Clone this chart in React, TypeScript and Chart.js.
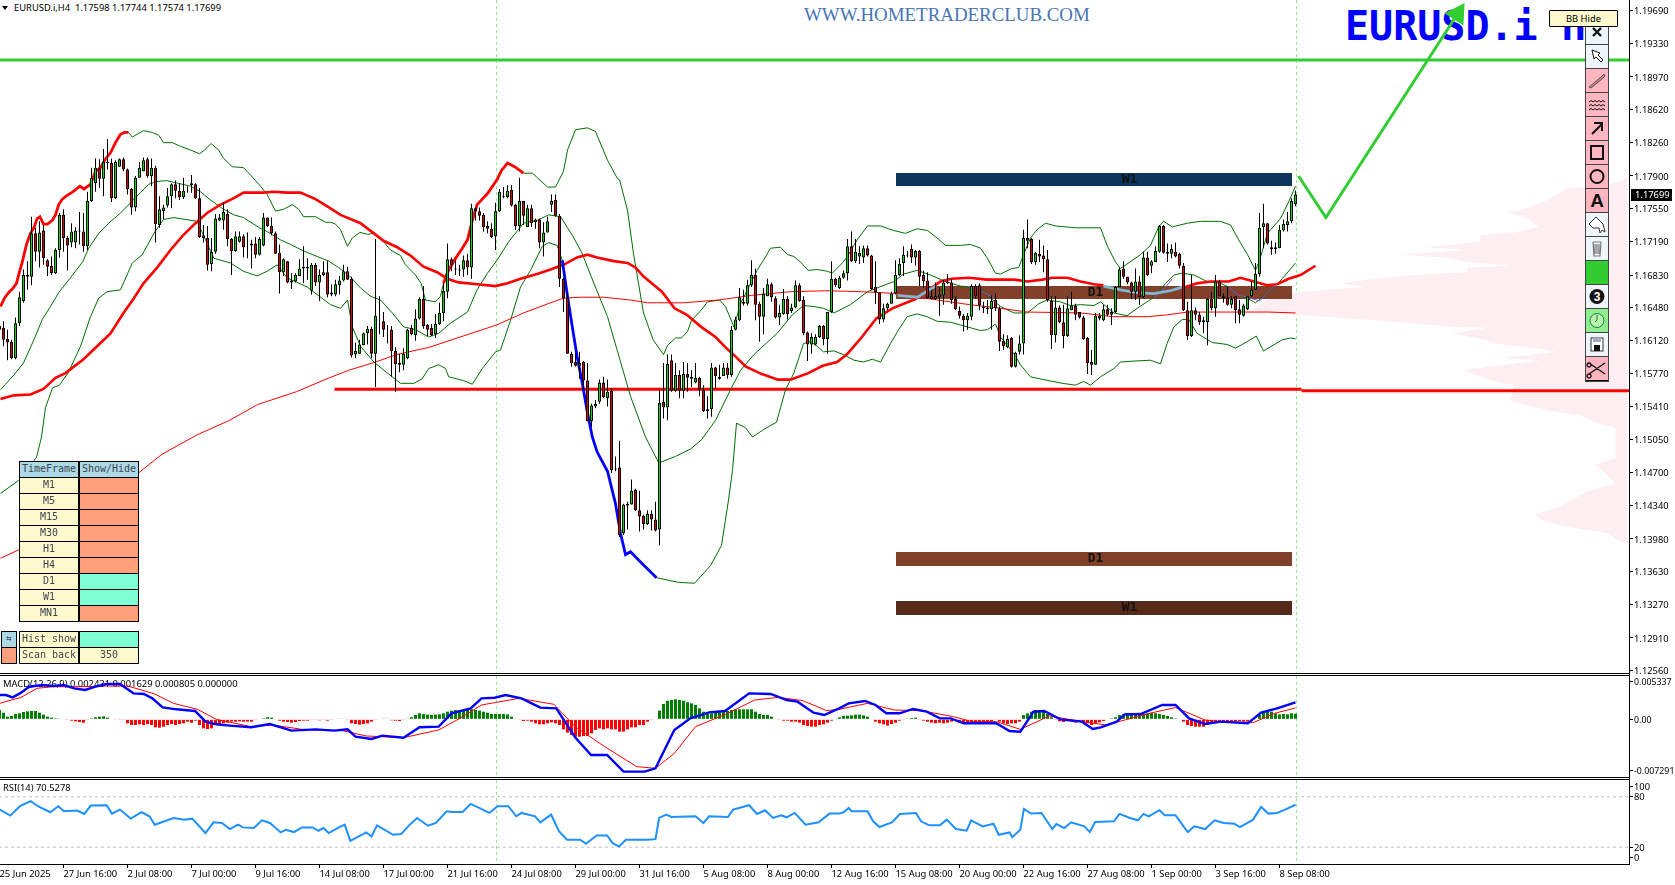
import React, { useEffect, useRef } from 'react';
import { Chart, registerables } from 'chart.js';
Chart.register(...registerables);

// Bars: [open, high, low, close] in 1/10000 of a price unit, H4 bars
const ohlc: number[][] = [
[11628,11633,11606,11624],[11626,11633,11606,11613],[11614,11624,11591,11610],[11611,11613,11592,11593],[11593,11637,11592,11631],
[11631,11665,11628,11659],[11655,11689,11653,11683],[11683,11698,11667,11681],[11681,11746,11672,11728],[11728,11734,11698,11708],
[11708,11741,11691,11729],[11731,11737,11694,11701],[11699,11700,11682,11692],[11693,11703,11683,11685],[11685,11712,11684,11710],
[11710,11750,11702,11748],[11748,11754,11708,11723],[11723,11725,11688,11715],[11718,11739,11713,11730],[11718,11735,11712,11731],
[11730,11751,11716,11731],[11730,11750,11708,11714],[11714,11773,11710,11763],[11763,11799,11762,11788],[11782,11809,11773,11799],
[11798,11808,11777,11787],[11787,11819,11768,11805],[11805,11830,11797,11804],[11804,11809,11762,11766],[11766,11807,11765,11805],
[11800,11809,11800,11808],[11808,11810,11795,11797],[11797,11798,11770,11776],[11776,11777,11748,11756],[11756,11790,11752,11788],
[11788,11805,11788,11799],[11795,11810,11795,11807],[11808,11810,11788,11790],[11790,11809,11779,11799],[11799,11801,11718,11738],
[11737,11768,11734,11754],[11752,11759,11743,11756],[11758,11777,11756,11768],[11768,11782,11755,11781],[11781,11785,11766,11774],
[11774,11782,11764,11767],[11767,11788,11765,11774],[11774,11779,11772,11774],[11782,11791,11772,11780],[11781,11782,11765,11766],
[11766,11777,11723,11724],[11726,11737,11718,11723],[11723,11736,11688,11694],[11695,11723,11687,11708],[11708,11749,11706,11744],
[11742,11749,11741,11745],[11742,11762,11732,11751],[11749,11754,11714,11722],[11722,11723,11683,11709],[11709,11730,11708,11725],
[11719,11730,11718,11725],[11725,11727,11702,11713],[11713,11729,11701,11713],[11717,11721,11690,11715],[11717,11724,11701,11705],
[11705,11724,11704,11722],[11715,11750,11714,11745],[11745,11745,11735,11736],[11736,11745,11726,11728],[11728,11730,11706,11706],
[11707,11716,11663,11686],[11686,11701,11682,11700],[11698,11698,11674,11675],[11677,11685,11668,11675],[11676,11685,11675,11683],
[11682,11700,11682,11690],[11690,11714,11674,11692],[11690,11701,11678,11692],[11666,11696,11662,11694],[11694,11696,11671,11675],
[11675,11689,11655,11683],[11683,11698,11682,11686],[11686,11698,11659,11662],[11664,11673,11660,11662],[11662,11678,11660,11673],
[11672,11682,11662,11677],[11677,11694,11676,11687],[11687,11692,11678,11678],[11679,11681,11594,11596],[11597,11610,11593,11601],
[11598,11613,11598,11608],[11607,11621,11607,11620],[11620,11628,11608,11625],[11625,11627,11593,11598],[11598,11722,11562,11639],
[11639,11660,11619,11639],[11633,11643,11616,11624],[11624,11629,11609,11624],[11624,11628,11573,11601],[11601,11605,11557,11587],
[11588,11598,11578,11586],[11586,11604,11580,11598],[11593,11625,11592,11624],[11626,11629,11618,11619],[11618,11646,11612,11636],
[11636,11659,11635,11657],[11657,11671,11625,11628],[11629,11630,11617,11624],[11626,11630,11617,11618],[11619,11641,11615,11630],
[11630,11653,11629,11642],[11642,11674,11633,11666],[11665,11717,11658,11700],[11700,11702,11687,11694],[11690,11699,11683,11689],
[11689,11694,11682,11688],[11689,11704,11681,11699],[11699,11706,11683,11691],[11691,11760,11679,11755],[11755,11756,11742,11752],
[11752,11756,11742,11747],[11748,11750,11730,11735],[11736,11741,11728,11733],[11733,11739,11723,11724],[11725,11761,11710,11752],
[11752,11776,11751,11773],[11768,11778,11766,11767],[11767,11780,11766,11774],[11775,11780,11757,11758],[11759,11760,11732,11736],
[11736,11788,11730,11763],[11763,11763,11737,11747],[11735,11759,11735,11755],[11755,11759,11735,11739],[11740,11744,11733,11743],
[11743,11744,11712,11718],[11718,11740,11703,11729],[11729,11746,11729,11741],[11759,11770,11751,11763],[11764,11770,11746,11747],
[11747,11749,11670,11679],[11679,11680,11643,11658],[11658,11663,11598,11598],[11598,11600,11584,11588],[11589,11599,11584,11585],
[11585,11600,11571,11588],[11589,11590,11559,11569],[11569,11588,11525,11525],[11525,11544,11519,11542],[11541,11548,11539,11544],
[11546,11570,11544,11567],[11567,11573,11550,11551],[11550,11570,11541,11557],[11558,11561,11469,11472],[11474,11487,11471,11473],
[11475,11504,11400,11402],[11404,11436,11402,11435],[11434,11438,11408,11436],[11435,11462,11435,11450],[11451,11452,11428,11429],
[11429,11450,11406,11422],[11423,11424,11408,11414],[11414,11429,11413,11425],[11425,11429,11407,11419],[11419,11438,11406,11407],
[11408,11559,11391,11545],[11546,11588,11528,11540],[11540,11597,11526,11587],[11591,11597,11557,11558],[11558,11588,11557,11575],
[11575,11580,11550,11558],[11558,11589,11550,11576],[11576,11588,11557,11572],[11573,11580,11562,11571],[11567,11588,11566,11572],
[11572,11573,11552,11559],[11559,11564,11535,11536],[11538,11552,11528,11536],[11538,11588,11530,11583],[11583,11584,11561,11574],
[11571,11586,11570,11573],[11574,11588,11574,11583],[11583,11588,11571,11575],[11575,11628,11573,11624],[11624,11638,11623,11635],
[11634,11669,11633,11659],[11654,11667,11650,11652],[11652,11678,11650,11672],[11672,11699,11670,11683],[11683,11690,11634,11651],
[11652,11654,11611,11638],[11638,11669,11619,11663],[11660,11679,11660,11673],[11673,11675,11654,11659],[11658,11660,11636,11637],
[11637,11651,11629,11642],[11641,11668,11640,11657],[11657,11660,11635,11641],[11644,11652,11642,11648],[11648,11677,11647,11672],
[11672,11674,11654,11655],[11656,11660,11618,11620],[11621,11622,11590,11608],[11608,11620,11598,11616],[11608,11619,11607,11616],
[11616,11629,11615,11628],[11628,11629,11607,11614],[11614,11643,11598,11643],[11643,11698,11642,11679],[11679,11680,11670,11672],
[11669,11682,11668,11680],[11680,11688,11679,11685],[11685,11722,11677,11714],[11714,11730,11697,11698],[11698,11722,11696,11708],
[11703,11714,11695,11707],[11702,11715,11696,11712],[11712,11715,11703,11704],[11704,11705,11667,11668],[11670,11698,11652,11664],
[11664,11664,11630,11635],[11635,11652,11632,11647],[11647,11653,11645,11652],[11652,11665,11652,11663],[11663,11699,11662,11683],
[11683,11701,11682,11695],[11696,11714,11682,11705],[11705,11709,11702,11704],[11711,11716,11696,11702],[11702,11710,11693,11709],
[11709,11710,11671,11681],[11683,11688,11669,11676],[11677,11686,11657,11658],[11657,11667,11657,11660],[11657,11675,11656,11660],
[11659,11670,11639,11662],[11661,11678,11651,11675],[11676,11684,11673,11674],[11675,11679,11652,11656],[11657,11660,11645,11646],
[11644,11649,11636,11639],[11639,11641,11622,11634],[11634,11642,11624,11639],[11638,11673,11634,11671],[11671,11673,11658,11660],
[11672,11674,11645,11650],[11649,11654,11642,11647],[11648,11656,11641,11646],[11646,11661,11624,11655],[11656,11663,11644,11647],
[11647,11649,11601,11611],[11612,11619,11602,11606],[11605,11618,11604,11614],[11615,11616,11583,11584],[11584,11600,11583,11599],
[11600,11618,11597,11609],[11609,11732,11597,11723],[11723,11743,11712,11720],[11722,11723,11695,11697],[11697,11708,11694,11707],
[11706,11721,11697,11703],[11704,11715,11686,11700],[11700,11710,11654,11656],[11655,11660,11603,11618],[11618,11660,11610,11648],
[11648,11650,11631,11632],[11632,11651,11604,11617],[11617,11660,11616,11647],[11645,11665,11645,11650],[11650,11652,11634,11640],
[11643,11643,11636,11637],[11637,11639,11613,11614],[11615,11616,11576,11588],[11589,11602,11575,11586],[11586,11642,11586,11639],
[11639,11642,11634,11636],[11634,11651,11633,11646],[11646,11651,11639,11640],[11643,11647,11629,11640],[11643,11671,11642,11670],
[11670,11691,11670,11689],[11690,11698,11679,11681],[11681,11681,11673,11675],[11675,11676,11657,11665],[11665,11690,11656,11676],
[11676,11682,11651,11659],[11659,11708,11658,11702],[11702,11708,11682,11683],[11693,11699,11685,11698],[11697,11714,11697,11709],
[11708,11737,11707,11736],[11736,11737,11706,11707],[11708,11717,11697,11706],[11706,11716,11701,11711],[11708,11718,11702,11703],
[11706,11707,11690,11693],[11693,11696,11644,11645],[11645,11654,11613,11617],[11617,11683,11616,11645],[11645,11648,11634,11640],
[11640,11643,11629,11632],[11634,11638,11620,11632],[11632,11658,11607,11657],[11657,11665,11645,11647],[11647,11683,11638,11676],
[11676,11678,11660,11660],[11660,11663,11653,11658],[11659,11670,11650,11651],[11651,11660,11647,11657],[11660,11660,11631,11645],
[11646,11656,11631,11640],[11639,11652,11638,11650],[11646,11660,11645,11660],[11660,11676,11659,11667],[11667,11696,11667,11684],
[11684,11750,11681,11734],[11735,11760,11712,11739],[11739,11739,11716,11717],[11713,11720,11705,11711],[11711,11718,11706,11713],
[11712,11737,11712,11732],[11731,11743,11730,11738],[11737,11751,11730,11741],[11741,11766,11739,11763],[11759.8,11774.4,11757.4,11769.9],
];

// Bollinger band and moving-average curves: [bar position, value in 1/10000]
const bbUpperExpandA = [[0.25,11649],[1.25,11658],[2.25,11664],[3.25,11668],[4.25,11674],[4.9,11685],[5.75,11698],[6.75,11716],[7.75,11728],[8.6,11734],[9.4,11744],[10.1,11746],[11,11738],[12,11738],[13.2,11742],[14,11748],[14.8,11759],[15.7,11765],[16.9,11769],[18.4,11773],[20.1,11779],[21.1,11776],[22.75,11781],[24,11795],[25.25,11799],[26.6,11809],[27.75,11815],[29,11826],[30.25,11835],[31.25,11837],[32.25,11837]];
const bbUpperA = [[32.25,11837],[33.2,11832],[34.4,11835],[36,11839],[38.2,11837],[39.8,11834],[41,11826],[43.2,11826],[45.25,11822],[47.75,11818],[50,11814],[51.25,11818],[52.9,11825],[54.8,11818],[56,11809],[58.2,11800],[61,11799],[62.75,11791],[65.25,11779],[66.9,11770],[69,11752],[71,11754],[73.2,11759],[74.8,11754],[76,11746],[79,11746],[81.5,11740],[82.75,11740],[84,11738],[85.25,11732],[87,11714],[88.2,11723],[90.1,11729],[92,11727],[93.6,11728],[95.25,11723],[97.75,11710],[100.25,11704],[101.5,11694],[104,11683],[105.4,11674],[106.5,11656],[109,11654],[110.25,11660],[111,11674]];
const bbUpperExpandB = [[111,11674],[111.9,11685],[114,11701],[115.7,11712],[117,11721],[118.2,11742],[119.4,11759],[122,11771],[124.4,11786],[125.5,11796],[127,11804],[128.75,11800],[131,11793]];
const bbUpperB = [[131,11793],[133.25,11793],[137,11778],[139,11778],[141,11795],[142,11818],[144,11840],[147,11842],[149,11838],[152,11807],[154.5,11787],[155,11786],[157,11753],[158.5,11706],[161,11642],[163.4,11613],[166,11597],[167,11607],[169,11615],[170.5,11615],[172,11622],[173,11634],[175.4,11645],[177,11654],[180,11656],[181.5,11649],[183.6,11627],[185.25,11652],[189.4,11688],[191,11699],[192.75,11712],[195.25,11713],[197,11705],[198.6,11703],[200.25,11697],[202.2,11688],[204.4,11689],[207,11687],[208.2,11685],[210.7,11696],[212,11703],[214.4,11721],[217,11736],[220.25,11736],[223.6,11731],[226.5,11728],[229.4,11733],[232,11731],[234.4,11723],[236.5,11715],[240.25,11715],[242.75,11716],[245.25,11712],[247,11701],[249,11685],[250.25,11684],[253,11690],[254.8,11691],[256,11705],[257.75,11723],[259.4,11732],[261.5,11739],[264,11736],[269,11734],[275.25,11734],[277,11714],[279,11697],[280.25,11690],[285.25,11705],[287.75,11715],[289.8,11735],[291,11741],[293.2,11735],[297,11739],[300.25,11741],[305.25,11741],[307.75,11737],[309.8,11721],[312,11705],[314,11688],[315,11699],[317,11728],[320.25,11744],[322.3,11762],[324,11779]];
const bbMiddle = [[0.25,11559],[1.5,11565],[3.6,11575],[6,11588],[8.6,11613],[10.7,11635],[12.75,11649],[14.8,11664],[17.75,11680],[20.9,11698],[22.3,11712],[24.8,11728],[27.3,11739],[30.25,11750],[33.2,11763],[35.25,11772],[37.3,11781],[39.25,11784],[41.75,11785],[44.75,11782],[47.75,11779],[50.25,11773],[52.75,11764],[55.7,11755],[58.6,11748],[61,11745],[65,11734],[66.9,11730],[70.25,11721],[72.75,11716],[76,11709],[79.4,11703],[82.3,11698],[84.8,11691],[87.75,11681],[90.25,11669],[92.75,11660],[95.25,11656],[98.2,11642],[101,11627],[104,11624],[107.3,11616],[109.8,11620],[112.75,11631],[117,11643],[119.4,11667],[122,11685],[124.4,11699],[127.3,11719],[131,11739],[134.4,11742],[137.3,11748],[140.25,11746],[143.2,11726],[145.7,11706],[148.6,11674],[152,11638],[154.4,11602],[157.75,11552],[161.5,11508],[164.8,11480],[169,11487],[172.75,11495],[175.5,11505],[179,11526],[182.75,11559],[185.25,11580],[188.6,11597],[194.4,11620],[198.2,11640],[201,11650],[203.6,11649],[206,11647],[208.6,11642],[212.75,11651],[217,11665],[219.4,11669],[223.6,11676],[226,11684],[229.4,11688],[232.75,11683],[236.5,11676],[240.25,11671],[245.25,11669],[247.75,11658],[250.25,11649],[253.6,11642],[257,11642],[259.8,11652],[261.9,11656],[265.25,11654],[267.75,11650],[270.25,11651],[273.6,11650],[275.25,11654],[278.6,11642],[281.9,11639],[284.4,11647],[286.9,11654],[289,11660],[291.5,11674],[293.6,11683],[295.7,11685],[298.6,11683],[301.9,11676],[305.25,11674],[307.3,11670],[309.8,11661],[311.9,11658],[314,11653],[316,11660],[318.6,11670],[320.7,11679],[324,11696]];
const bbLowerA = [[0.25,11447],[4.75,11461],[9.25,11486],[10.5,11508],[11.5,11540],[13.25,11561],[15,11564],[17.25,11578],[20.25,11606],[22.75,11638],[24.8,11658],[26.9,11665],[30.25,11667],[33.2,11696],[35.7,11705],[38.6,11728],[41,11743],[43.6,11745],[49.4,11741],[51.1,11725],[53.6,11701],[57.75,11696],[61,11687],[64.4,11682],[66.9,11687],[69.4,11694],[71.9,11680],[76.9,11670],[82.75,11651],[85.25,11647],[87,11656],[88.2,11627],[90.25,11606],[93.6,11589],[97,11577],[100.25,11566],[103.6,11566],[105.7,11571],[107.3,11582],[109.8,11586],[111.5,11582],[112.3,11573],[116,11569],[118.2,11565],[120.7,11582],[124,11600],[125.25,11602],[127.75,11634],[130.25,11670],[132.75,11688],[135.7,11714],[137.3,11718],[139.4,11715],[140.7,11699]];
const bbLowerExpand = [[140.7,11699],[142,11660],[143.2,11627],[144.4,11595],[145.7,11566],[147,11534],[148.2,11508],[149.4,11492],[152,11471],[154,11436],[155.25,11404],[156.5,11381],[157.75,11384],[160.5,11372],[164.25,11356]];
const bbLowerB = [[164.25,11356],[169.75,11351],[173.75,11350],[177.75,11369],[180.5,11391],[182.25,11440],[183.25,11472],[184.25,11523],[186.5,11518],[188.25,11508],[191,11516],[194.25,11524],[196.5,11559],[198.6,11577],[201,11609],[202.75,11611],[204.4,11606],[206,11600],[208.6,11601],[211,11597],[213.6,11591],[216,11589],[218.2,11592],[220.25,11589],[222.75,11609],[224.8,11624],[226.9,11638],[229.4,11641],[231.9,11638],[234.4,11633],[237.75,11632],[241.1,11628],[245.25,11623],[247,11624],[249,11630],[250.25,11616],[253.6,11598],[255.25,11586],[257.75,11573],[261,11570],[265.7,11566],[269,11564],[271,11568],[272.75,11564],[275.25,11573],[278.6,11582],[280.25,11589],[283.6,11590],[287.75,11591],[290.25,11587],[291.9,11609],[293.6,11627],[295.7,11635],[297.3,11635],[299.4,11620],[303.2,11610],[306.9,11608],[309,11604],[311.9,11611],[314.2,11617],[316,11601],[320.7,11613],[322.75,11615],[324,11614]];
const maFast = [[0.25,11549],[3.6,11553],[7.75,11554],[11,11560],[14,11572],[16.5,11577],[21,11592],[24.4,11606],[27.75,11620],[31,11642],[33.6,11658],[36,11674],[39.4,11691],[42.75,11710],[45.7,11725],[49,11739],[51.9,11750],[55.25,11759],[58.6,11766],[61,11772],[66,11772],[68.6,11773],[71.9,11772],[75.25,11772],[79,11765],[82.75,11755],[85.25,11748],[90.25,11739],[93.6,11728],[96,11720],[99.4,11713],[102.75,11704],[106,11692],[109.4,11686],[111.9,11679],[114.8,11675],[119.4,11673],[124,11671],[127,11674],[130.25,11679],[134.4,11684],[137.75,11689],[141,11694],[144.4,11702],[147,11705],[149.4,11702],[153.6,11698],[157,11696],[159,11691],[161.1,11681],[165.6,11665],[168.75,11647],[171.85,11640],[175.4,11627],[179,11616],[181.7,11604],[183.5,11597],[186.6,11584],[190.6,11576],[194.6,11570],[197.75,11570],[202.2,11577],[205.8,11585],[209.4,11589],[212,11598],[215.6,11616],[219.2,11636],[223.2,11647],[229,11657],[235.25,11676],[238,11679],[242.4,11680],[246.9,11678],[253.6,11678],[257,11676],[260.7,11678],[263.2,11680],[267,11680],[270.25,11676],[273.6,11673],[276,11672],[null,null],[296.5,11670],[299.4,11674],[302.75,11676],[307.3,11676],[310.25,11680],[313.6,11676],[316.9,11672],[319.4,11673],[322.3,11679],[325.25,11683],[329,11693]];
const maSlow = [[0.25,11377],[4.75,11386],[35,11470],[40.5,11489],[49.25,11510],[57.5,11526],[64.5,11543],[74.25,11557],[82.5,11572],[87.25,11580],[94,11589],[99.25,11597],[107.5,11605],[113.75,11614],[124.25,11629],[131,11642],[137.75,11653],[141,11658],[145.25,11659],[151,11659],[157.75,11656],[162,11653],[171,11653],[179.75,11656],[188,11661],[197.75,11665],[206.75,11666],[215.5,11665],[224.5,11663],[234.25,11656],[242.5,11651],[250.25,11647],[257,11643],[270.25,11642],[278.5,11638],[287,11638],[292,11640],[297,11643],[303.5,11643],[317,11643],[324,11642]];
const fastPale = [[224.5,11661],[227.2,11660],[229.5,11659],[231.7,11665],[234,11671],[null,null],[276,11671],[280.25,11667],[284.4,11664],[288.6,11663],[292.75,11666],[295.7,11670]];
const midPurple = [[242,11671],[245.1,11667],[248.6,11658],[null,null],[288.6,11658],[291.5,11670],[293.2,11679],[null,null],[307.3,11670],[309.8,11661],[311.9,11659],[315,11655],[317.3,11665],[319.25,11673]];

// Horizontal levels and the drawn forecast arrow
const levelGreen = [[0,11915.3],[407.4,11915.3]];
const levelRedA = [[83.75,11559.5],[325.5,11559.5]];
const levelRedB = [[325.5,11558],[407.4,11558]];
const arrowPath = [[324.75,11790],[331.6,11745],[364.5,11965]];

// Zones: [start bar, end bar, upper value, lower value]
const zoneRows = [[224,323,11793.2,11779.2],[224,323,11671.1,11657.1],[224,323,11383.8,11368.7],[224,323,11330.8,11315.7]];
const zoneColors = ['#0e355c', '#80402a', '#80402a', '#552a18'];
const zoneNames = ['W1', 'D1', 'D1', 'W1'];
const zoneNameBars = [282.5, 274, 274, 282.5];

// Volume profile outline: [bar position reached, value]
const profile = [[407,11790],[405.5,11784],[399,11778],[391.75,11777],[390.75,11773],[387,11764],[382,11755],[377,11750],[381.5,11745],[384.75,11735],[378.75,11729],[370.25,11726],[370.25,11719],[356,11713],[367,11710],[350,11705],[361.5,11702],[367,11697],[378,11693],[367,11691],[367,11686],[354,11683],[341.25,11678],[335.75,11674],[341.25,11670],[332,11667],[323.75,11664],[317,11656],[312.75,11645],[323.75,11640],[334,11637],[350.5,11632],[363.25,11627],[372,11626],[363.25,11620],[371.5,11613],[372.5,11610],[385.25,11603],[389,11600],[376,11593],[385.25,11591],[366,11580],[372,11570],[378.5,11564],[377.75,11547],[387,11537],[395.25,11531],[399.5,11523],[404,11518],[404,11485],[399,11478],[402,11467],[404,11458],[397,11449],[394,11442],[389.5,11432],[384,11424],[386,11417],[392,11411],[402,11404],[404.5,11397],[407,11392]];

// MACD pane, values in 1e-5
const macdHist = [133,95,38,48,76,86,105,114,119,119,95,67,38,24,14,5,0,-10,-19,-29,-38,-48,-10,14,29,38,43,24,0,-5,-10,-10,-57,-81,-81,-71,-81,-67,-81,-114,-119,-105,-81,-67,-81,-67,-57,-33,-48,-19,-81,-129,-138,-129,-81,-71,-57,-48,-33,-33,-29,-33,-33,-33,-10,0,14,29,24,0,-19,-33,-38,-48,-38,-24,-19,-19,-10,-10,-14,-10,-19,-10,0,5,5,-10,-57,-67,-76,-67,-57,-33,-10,0,10,5,-14,-19,-24,-10,10,29,62,86,76,67,62,67,71,86,109,124,133,133,124,133,143,133,124,109,95,76,76,76,76,71,38,5,-10,-24,-19,-33,-57,-71,-71,-57,-43,-57,-81,-143,-190,-224,-248,-248,-238,-238,-200,-152,-129,-143,-129,-143,-143,-176,-176,-143,-114,-114,-81,-81,-33,-10,0,124,219,267,276,286,276,267,243,228,205,157,109,76,86,95,100,109,119,133,143,143,143,143,143,109,76,62,62,38,0,-10,-19,-19,-33,-33,-48,-81,-95,-105,-105,-81,-71,-48,-19,5,29,48,52,57,67,67,57,38,0,-33,-57,-71,-90,-67,-48,-19,-10,10,19,24,-10,-19,-33,-48,-57,-48,-57,-48,-33,-19,-48,-67,-57,-43,-33,-43,-29,-29,-24,-10,-33,-57,-67,-57,-57,-33,62,86,109,133,133,109,76,29,-10,-29,-38,-24,-33,-48,-33,-43,-57,-81,-57,-43,-24,0,14,29,62,76,86,76,71,62,76,86,95,86,76,62,48,29,14,0,-33,-81,-95,-105,-105,-105,-81,-57,-33,-24,-29,-38,-24,-33,-24,-33,-33,-19,0,62,95,109,109,86,71,76,71,86,80];
const macdLine = [[0,347],[1.6,347],[3.3,314],[5.4,381],[7.4,466],[10.7,490],[13.4,476],[16,490],[18.7,443],[21.4,419],[24,466],[26.8,505],[30.1,505],[33.5,371],[36.1,362],[38.2,300],[40.8,171],[44.2,143],[48.9,119],[51.5,-33],[54.2,-71],[57.6,-90],[62.9,-114],[67.6,-67],[73,-162],[79,-143],[83.7,-162],[87,-143],[89,-248],[93,-281],[95.7,-233],[101,-262],[105,-114],[109.8,-105],[113,86],[117.8,157],[120.5,300],[123.8,309],[126.5,347],[130.5,300],[135.2,167],[139.2,157],[143.9,-257],[147.9,-509],[151.9,-509],[156,-747],[161.3,-747],[164,-700],[168.7,-152],[172.7,14],[177.4,100],[181.4,119],[187.4,371],[192.8,362],[196.8,276],[199.5,252],[203.5,95],[206.2,62],[209.9,157],[212.3,228],[216.4,262],[219,205],[221.7,86],[225,86],[228.4,148],[231.8,109],[235.1,14],[237.8,14],[241.1,-57],[249.2,-57],[252.5,-167],[255.2,-176],[258.5,109],[261.2,119],[265.2,0],[270.6,-33],[273.3,-138],[275.3,-114],[279.3,-33],[281.3,71],[285.3,76],[290.7,205],[294,205],[297.4,14],[301.4,-67],[305.4,-33],[312.1,-57],[315.4,95],[319.4,157],[324,243]];
const macdSignal = [[0,228],[5.4,314],[9.4,443],[13.4,466],[20.1,466],[26.8,476],[32.1,476],[38.8,362],[43.5,228],[49.5,143],[54.2,0],[62.9,-105],[68.3,-81],[75.6,-143],[85.7,-162],[91.7,-238],[101,-262],[109.8,-152],[115.1,14],[120.5,205],[129.9,300],[138.6,214],[143.9,-105],[151.3,-390],[159.3,-676],[164,-700],[168.7,-486],[174,-105],[182.1,86],[188.8,276],[194.8,314],[200.8,267],[206.8,124],[209.9,143],[217,228],[223.7,133],[230.4,124],[238.5,38],[243.1,-33],[249.2,-33],[255.2,-143],[262.5,48],[269.2,-19],[276.6,-81],[281.3,-10],[289.3,109],[294,167],[301.4,-10],[305.4,-33],[313.4,-48],[318.8,86],[324,163]];

// RSI pane
const rsiLine = [[0,65],[2.7,57.6],[5.1,68.8],[7.8,74.8],[9.6,68.8],[12.7,61.6],[14.7,68.8],[16.1,62.8],[19.4,63.6],[21.2,59.6],[22.8,69.6],[26.8,70],[28.1,60],[30.1,64.8],[32.8,54],[35.5,61.6],[37.5,56.8],[38.8,46.8],[43.5,54.8],[46.2,52.8],[48.2,54],[51.5,36.8],[53.5,49.6],[55.6,48.8],[57.6,41.6],[59.6,46.8],[60.9,43.6],[63.6,42.8],[65.6,52],[67.6,48.8],[70.3,37.6],[71.6,40.8],[73.6,38],[75.6,43.6],[78.3,43.6],[79.7,39.6],[81,42.8],[82.3,36.8],[85,44],[86.3,46.8],[87.7,27.6],[91.7,37.6],[93,32.8],[94.4,46],[98.4,34.8],[100.4,35.6],[102.4,46],[104.4,54.8],[107.1,45.6],[109.1,48.8],[111.8,62.8],[113.1,62],[115.8,62],[117.8,71.6],[122.5,60.8],[124.5,68.8],[127.2,68.8],[129.2,56.8],[130.5,60.8],[133.9,56.8],[135.2,49.6],[137.9,58.8],[139.9,38.8],[141.9,28.8],[145.2,28.8],[146.6,24],[149.3,34],[151.9,34],[153.3,24.8],[154.9,20.8],[156.6,28.8],[159.3,28.8],[162,28.8],[164,29.6],[164.9,54.8],[166.7,58.8],[168,56],[174,56.8],[176,48.8],[177.4,56.8],[182.1,56],[183.4,64.8],[187.4,70],[189.4,59.6],[191.4,64],[193.4,54.8],[195.4,58],[196.8,55.6],[198.8,60.8],[201.5,46.8],[204.8,49.6],[207.5,60],[209.9,60],[211,61.6],[212.3,66.8],[213,62.8],[217,62.8],[218.4,50.8],[220,44],[223.1,49.6],[225.1,59.6],[229.1,60.8],[230.4,50.8],[232.4,46],[235.1,46],[236.8,52.8],[239.1,41.6],[241.8,39.6],[242.9,52],[245.8,44.8],[248.5,48],[249.8,34.8],[252.5,37.6],[253.2,32],[255.2,40.8],[256.1,65.6],[257.9,60],[260.5,60.8],[263.2,41.6],[264.2,47.6],[266.2,42.8],[267.9,49.6],[271.2,44.8],[272.6,38],[273.9,50],[278.6,50.8],[280,59.6],[282.6,54.8],[284.6,52],[286,59.6],[287.3,56.8],[290,64],[291.3,58],[294,58],[296,44.8],[297.1,38],[298.7,44.8],[301.4,41.6],[303.8,52],[306.1,48.8],[308.7,48],[310.1,44],[313.4,52.8],[315.4,68],[317.2,60],[319.4,60.8],[321.4,64.8],[324,70.5278]];

// Axis text
const priceTicks = ['1.19690','1.19330','1.18970','1.18620','1.18260','1.17900','1.17550','1.17190','1.16830','1.16480','1.16120','1.15770','1.15410','1.15050','1.14700','1.14340','1.13980','1.13630','1.13270','1.12910','1.12560'];
const macdTickValues = [533.7, 0, -729.1];
const macdTickLabels = ['0.005337', '0.00', '-0.007291'];
const rsiTickValues = [92, 80, 20, 8];
const rsiTickLabels = ['100', '80', '20', '0'];
const timeTickBars = [0,16,32,48,64,80,96,112,128,144,160,176,192,208,224,240,256,272,288,304,320];
const timeTickLabels = ['25 Jun 2025','27 Jun 16:00','2 Jul 08:00','7 Jul 00:00','9 Jul 16:00','14 Jul 08:00','17 Jul 00:00','21 Jul 16:00','24 Jul 08:00','29 Jul 00:00','31 Jul 16:00','5 Aug 08:00','8 Aug 00:00','12 Aug 16:00','15 Aug 08:00','20 Aug 00:00','22 Aug 16:00','27 Aug 08:00','1 Sep 00:00','3 Sep 16:00','8 Sep 08:00'];
const sessionBars = [124, 324];

// Panel and toolbar content
const panelFrames = ['M1','M5','M15','M30','H1','H4','D1','W1','MN1'];
const panelStates = [0,0,0,0,0,0,1,1,0];
const toolColors = ['#eef6fc','#eef6fc','#ffb6c1','#ffb6c1','#ffb6c1','#ffb6c1','#ffb6c1','#ffb6c1','#eef6fc','#eef6fc','#32cd32','#eef6fc','#90ee90','#eef6fc','#ffb6c1'];

const UI_FONT = "'Noto Sans','Liberation Sans',sans-serif";
const UI_SIZE = 9.4;
const MONO = "'DejaVu Sans Mono',monospace";
const X_MIN = -0.125;
const X_MAX = 407.375;
const AXIS_W = 46;
const BAND_GREEN = '#007000';

const toPrice = (v: number) => v / 10000;

function curve(pairs: any[], color: string, width: number, order: number, scale = toPrice) {
  return {
    type: 'line' as const,
    data: pairs.map(([x, y], i) => ({ x: x === null ? pairs[i - 1][0] : x, y: y === null ? null : scale(y) })),
    borderColor: color,
    borderWidth: width,
    pointRadius: 0,
    tension: 0,
    fill: false,
    spanGaps: false,
    order,
  };
}

const noPadding = (s: any) => { s.paddingTop = 0; s.paddingBottom = 0; s.paddingLeft = 0; s.paddingRight = 0; };

function xScale(show: boolean) {
  return {
    type: 'linear' as const,
    display: show,
    min: X_MIN,
    max: X_MAX,
    offset: false,
    afterBuildTicks: (s: any) => { s.ticks = timeTickBars.map((value) => ({ value })); },
    afterFit: (s: any) => { noPadding(s); if (show) s.height = 21; },
    grid: { offset: false, drawOnChartArea: false, drawTicks: true, tickLength: 4, color: '#000' },
    border: { color: '#000' },
    ticks: {
      autoSkip: false, maxRotation: 0, minRotation: 0, align: 'start' as const, padding: 1,
      color: '#000', font: { family: UI_FONT, size: UI_SIZE },
      callback: (_v: any, i: number) => timeTickLabels[i],
    },
  };
}

function yScale(min: number, max: number, values: number[], labels: string[], size = UI_SIZE) {
  return {
    position: 'right' as const,
    min, max,
    afterFit: (s: any) => { noPadding(s); s.width = AXIS_W; },
    afterBuildTicks: (s: any) => { s.ticks = values.map((value) => ({ value })); },
    grid: { drawOnChartArea: false, drawTicks: true, tickLength: 4, color: '#000' },
    border: { color: '#000' },
    ticks: {
      autoSkip: false, padding: 1, labelOffset: 1, color: '#000', font: { family: UI_FONT, size },
      callback: (_v: any, i: number) => labels[i],
    },
  };
}

function sessionLines(chart: any) {
  const { ctx, chartArea, scales } = chart;
  ctx.save();
  ctx.strokeStyle = '#90ee90';
  ctx.lineWidth = 1;
  ctx.setLineDash([3, 3]);
  sessionBars.forEach((b) => {
    const x = Math.round(scales.x.getPixelForValue(b)) + 0.5;
    ctx.beginPath();
    ctx.moveTo(x, chartArea.top);
    ctx.lineTo(x, chartArea.bottom);
    ctx.stroke();
  });
  ctx.restore();
}

function titlePlugin(text: string, y: number) {
  return {
    id: 'paneTitle',
    beforeDatasetsDraw(chart: any) {
      sessionLines(chart);
      const { ctx } = chart;
      ctx.save();
      ctx.font = `${UI_SIZE}px ${UI_FONT}`;
      ctx.fillStyle = '#000';
      ctx.textBaseline = 'middle';
      ctx.fillText(text, 4, y);
      ctx.restore();
    },
  };
}

const mainOverlay = {
  id: 'mainOverlay',
  beforeDatasetsDraw(chart: any) {
    const { ctx, scales } = chart;
    const { x, y } = scales;
    sessionLines(chart);
    ctx.save();
    ctx.fillStyle = '#fdeef2';
    ctx.beginPath();
    profile.forEach(([b, v], i) => {
      const px = x.getPixelForValue(b);
      const py = y.getPixelForValue(toPrice(v));
      if (i === 0) ctx.moveTo(px, py); else ctx.lineTo(px, py);
    });
    ctx.closePath();
    ctx.fill();
    zoneRows.forEach(([a, b, hi, lo], i) => {
      const xa = Math.round(x.getPixelForValue(a));
      const xb = Math.round(x.getPixelForValue(b));
      const ya = Math.round(y.getPixelForValue(toPrice(hi)));
      const yb = Math.round(y.getPixelForValue(toPrice(lo)));
      ctx.fillStyle = zoneColors[i];
      ctx.fillRect(xa, ya, xb - xa, yb - ya);
      ctx.fillStyle = '#111';
      ctx.font = `bold 13px ${MONO}`;
      ctx.textAlign = 'center';
      ctx.textBaseline = 'middle';
      ctx.fillText(zoneNames[i], x.getPixelForValue(zoneNameBars[i]), (ya + yb) / 2);
    });
    ctx.restore();
  },
  afterDraw(chart: any) {
    const { ctx, scales } = chart;
    const last = ohlc[ohlc.length - 1][3];
    const py = Math.round(scales.y.getPixelForValue(toPrice(last)));
    ctx.save();
    ctx.fillStyle = '#000';
    ctx.fillRect(1632, py - 6, 41, 12);
    ctx.fillStyle = '#fff';
    ctx.font = `${UI_SIZE}px ${UI_FONT}`;
    ctx.textBaseline = 'middle';
    ctx.fillText(toPrice(last).toFixed(5), 1636, py + 0.5);
    ctx.restore();
  },
};

const baseOptions = (pad: number) => ({
  animation: false as const,
  responsive: false,
  maintainAspectRatio: false,
  events: [] as any[],
  layout: { autoPadding: false, padding: { left: 0, right: 0, top: 0, bottom: pad } },
  plugins: { legend: { display: false }, tooltip: { enabled: false } },
});

const glyph = (k: number) => {
  const s = { fill: 'none', stroke: '#111', strokeWidth: 1.4 };
  switch (k) {
    case 0: return <path d="M7 7 L15 15 M15 7 L7 15" {...s} strokeWidth={2.4} />;
    case 1: return <path d="M6 5 L14 8 L12 10 L17 15 L15 17 L10 12 L8 14 Z" fill="#fff" stroke="#111" />;
    case 2: return <path d="M3 18 L15 8 L18 5 L19 7 L16 10 L5 19 Z" fill="#c88" stroke="#555" />;
    case 3: return <path d="M3 9 q2 -3 4 0 q2 -3 4 0 q2 -3 4 0 q2 -3 4 0 M3 13 q2 -3 4 0 q2 -3 4 0 q2 -3 4 0 q2 -3 4 0 M3 17 q2 -3 4 0 q2 -3 4 0 q2 -3 4 0 q2 -3 4 0" {...s} strokeWidth={1} />;
    case 4: return <path d="M6 17 L16 7 M8 6 L16 6 L16 14" {...s} strokeWidth={2} />;
    case 5: return <rect x="5" y="5" width="12" height="13" {...s} strokeWidth={2} />;
    case 6: return <circle cx="11" cy="11.5" r="6.5" {...s} strokeWidth={2} />;
    case 7: return <text x="11" y="18" textAnchor="middle" fontFamily="'Liberation Sans'" fontWeight="bold" fontSize="19" fill="#111">A</text>;
    case 8: return <path d="M3 11 L10 4 L17 11 L19 19 L16 17 L14 20 L13 15 L7 15 Z" fill="#fff" stroke="#333" />;
    case 9: return <path d="M7 5 H15 M7 5 L8 19 H14 L15 5 M9 7 V17 M11 7 V17 M13 7 V17" fill="none" stroke="#777" strokeWidth={1.2} />;
    case 10: return null;
    case 11: return <g><circle cx="11" cy="11.5" r="7.5" fill="#111" /><text x="11" y="16" textAnchor="middle" fontFamily="'Liberation Sans'" fontWeight="bold" fontSize="12" fill="#fff">3</text></g>;
    case 12: return <g><circle cx="11" cy="11.5" r="7" fill="#b6f5a8" stroke="#275" /><path d="M11 6 V11 L9 13" fill="none" stroke="#275" /></g>;
    case 13: return <g><rect x="5" y="5" width="12" height="13" fill="#fff" stroke="#333" /><rect x="8" y="12" width="6" height="6" fill="#111" /><rect x="7" y="5" width="8" height="4" fill="#aac" /></g>;
    default: return <path d="M3 6 L19 17 M3 17 L19 6 M3 6 a2 2 0 1 0 .1 0 M3 17 a2 2 0 1 0 .1 0" {...s} strokeWidth={1.4} />;
  }
};

export default function App() {
  const mainRef = useRef<HTMLCanvasElement>(null);
  const macdRef = useRef<HTMLCanvasElement>(null);
  const rsiRef = useRef<HTMLCanvasElement>(null);

  useEffect(() => {
    const wicks = ohlc.map(([, h, l], i) => ({ x: i, y: [toPrice(l), toPrice(h)] }));
    const bodies = ohlc.map(([o, , , c], i) => ({ x: i, y: [toPrice(o), toPrice(c)] }));
    const bodyColors = ohlc.map(([o, , , c]) => (c >= o ? '#00e000' : '#e00000'));

    const main = new Chart(mainRef.current as any, {
      type: 'bar',
      data: {
        datasets: [
          { data: bodies, backgroundColor: bodyColors, borderColor: '#000', borderWidth: 1, borderSkipped: false, barThickness: 3, grouped: false, inflateAmount: 0, order: 0 } as any,
          { data: wicks, backgroundColor: '#000', borderWidth: 0, barThickness: 1, grouped: false, inflateAmount: 0, order: 1 } as any,
          curve(bbUpperExpandA, '#ff0000', 2.8, 2),
          curve(bbUpperExpandB, '#ff0000', 2.8, 2),
          curve(bbLowerExpand, '#0000ff', 2.8, 2),
          curve(fastPale, '#7fb8d6', 2.8, 2),
          curve(midPurple, '#8a4fd0', 1, 2),
          curve(maFast, '#ff0000', 2.6, 3),
          curve(maSlow, '#ff0000', 1, 4),
          curve(bbUpperA, BAND_GREEN, 1, 4),
          curve(bbUpperB, BAND_GREEN, 1, 4),
          curve(bbMiddle, BAND_GREEN, 1, 4),
          curve(bbLowerA, BAND_GREEN, 1, 4),
          curve(bbLowerB, BAND_GREEN, 1, 4),
          curve(levelGreen, '#32cd32', 3, 5),
          curve(levelRedA, '#ff0000', 3, 5),
          curve(levelRedB, '#ff0000', 3, 5),
          {
            ...curve(arrowPath, '#32cd32', 3, 2),
            pointRadius: [0, 0, 10], pointStyle: 'triangle', pointRotation: [0, 0, 33],
            pointBackgroundColor: '#32cd32', pointBorderColor: '#32cd32', clip: false,
          } as any,
        ],
      },
      options: {
        ...baseOptions(17),
        scales: {
          x: xScale(false),
          y: yScale(toPrice(11253.05), toPrice(11980.1), priceTicks.map(Number), priceTicks),
        },
      } as any,
      plugins: [mainOverlay],
    });

    const macd = new Chart(macdRef.current as any, {
      type: 'bar',
      data: {
        datasets: [
          curve(macdLine, '#0000ff', 2.4, 0, (v) => v),
          curve(macdSignal, '#ff0000', 1, 1, (v) => v),
          {
            data: macdHist.map((y, x) => ({ x, y })),
            backgroundColor: macdHist.map((v) => (v >= 0 ? '#008000' : '#ff0000')),
            borderWidth: 0, barThickness: 3, grouped: false, inflateAmount: 0, order: 2,
          } as any,
        ],
      },
      options: {
        ...baseOptions(0),
        scales: { x: xScale(false), y: yScale(-824, 619, macdTickValues, macdTickLabels, 8.8) },
      } as any,
      plugins: [titlePlugin('MACD(12,26,9) 0.002431 0.001629 0.000805 0.000000', 8)],
    });

    const rsi = new Chart(rsiRef.current as any, {
      type: 'line',
      data: {
        datasets: [
          curve(rsiLine, '#1e90ff', 2, 0, (v) => v),
          { ...curve([[X_MIN, 80], [X_MAX, 80]], '#c0c0c0', 1, 1, (v) => v), borderDash: [3, 3] } as any,
          { ...curve([[X_MIN, 20], [X_MAX, 20]], '#c0c0c0', 1, 1, (v) => v), borderDash: [3, 3] } as any,
        ],
      },
      options: {
        ...baseOptions(0),
        scales: { x: xScale(true), y: yScale(0, 100, rsiTickValues, rsiTickLabels) },
      } as any,
      plugins: [titlePlugin('RSI(14) 70.5278', 8)],
    });

    return () => { main.destroy(); macd.destroy(); rsi.destroy(); };
  }, []);

  const cellBase: React.CSSProperties = {
    position: 'absolute', boxSizing: 'border-box', border: '1.5px solid #000', font: `10px ${MONO}`,
    color: '#3c4650', textAlign: 'center', lineHeight: '13px', whiteSpace: 'pre', overflow: 'hidden',
  };
  const hLine = (top: number): React.CSSProperties => ({ position: 'absolute', left: 0, top, width: 1629, height: 1, background: '#000' });

  return (
    <div style={{ position: 'fixed', left: 0, top: 0, width: 1675, height: 885, overflow: 'hidden', background: '#fff' }}>
      <div style={{ position: 'absolute', left: 1345, top: 6, font: `bold 40px ${MONO}`, color: '#0000ff', lineHeight: '40px', whiteSpace: 'pre' }}>EURUSD.i H4</div>
      <div style={{ position: 'absolute', left: 804, top: 3, font: "18.9px 'Liberation Serif',serif", color: '#4575b4', lineHeight: '24px', whiteSpace: 'pre' }}>WWW.HOMETRADERCLUB.COM</div>
      <div style={{ position: 'absolute', left: 2, top: 6, width: 0, height: 0, borderLeft: '3.5px solid transparent', borderRight: '3.5px solid transparent', borderTop: '4px solid #000' }} />
      <div style={{ position: 'absolute', left: 14, top: 1, font: `${UI_SIZE}px ${UI_FONT}`, color: '#000', lineHeight: '14px', whiteSpace: 'pre' }}>EURUSD.i,H4  1.17598 1.17744 1.17574 1.17699</div>

      <canvas ref={mainRef} width={1676} height={690} style={{ position: 'absolute', left: -1, top: 0 }} />
      <canvas ref={macdRef} width={1676} height={101} style={{ position: 'absolute', left: -1, top: 676 }} />
      <canvas ref={rsiRef} width={1676} height={105} style={{ position: 'absolute', left: -1, top: 780 }} />

      <div style={hLine(673)} /><div style={hLine(675)} /><div style={hLine(777)} /><div style={hLine(779)} />
      <div style={{ position: 'absolute', left: 1629, top: 0, width: 1, height: 865, background: '#000' }} />

      <div style={{ ...cellBase, left: 19, top: 461, width: 60, height: 17, background: '#add8e6' }}>TimeFrame</div>
      <div style={{ ...cellBase, left: 79, top: 461, width: 60, height: 17, background: '#add8e6' }}>Show/Hide</div>
      {panelFrames.map((f, i) => (
        <React.Fragment key={f}>
          <div style={{ ...cellBase, left: 19, top: 477 + 16 * i, width: 60, height: 17, background: '#fffacd' }}>{f}</div>
          <div style={{ ...cellBase, left: 79, top: 477 + 16 * i, width: 60, height: 17, background: panelStates[i] ? '#7fffd4' : '#ffa07a' }} />
        </React.Fragment>
      ))}
      <div style={{ ...cellBase, left: 1, top: 631, width: 16, height: 17, background: '#add8e6', fontSize: 9 }}>⇆</div>
      <div style={{ ...cellBase, left: 1, top: 647, width: 16, height: 17, background: '#ffa07a' }} />
      <div style={{ ...cellBase, left: 19, top: 631, width: 60, height: 17, background: '#fffacd' }}>Hist show</div>
      <div style={{ ...cellBase, left: 79, top: 631, width: 60, height: 17, background: '#7fffd4' }} />
      <div style={{ ...cellBase, left: 19, top: 647, width: 60, height: 17, background: '#fffacd' }}>Scan back</div>
      <div style={{ ...cellBase, left: 79, top: 647, width: 60, height: 17, background: '#fffacd' }}>350</div>

      {toolColors.map((c, k) => (
        <svg key={k} width={22} height={23} viewBox="0 0 22 23" style={{ position: 'absolute', left: 1586, top: 21 + 24 * k, background: c, borderBottom: '1px solid #000', boxSizing: 'content-box', outline: '0.5px solid #444' }}>
          {glyph(k)}
        </svg>
      ))}
      <div style={{ position: 'absolute', left: 1549, top: 10, width: 69, height: 17, boxSizing: 'border-box', background: '#fffacd', border: '1px solid #000', font: `${UI_SIZE}px ${UI_FONT}`, lineHeight: '15px', textAlign: 'center', color: '#000', borderRadius: 1 }}>BB Hide</div>
    </div>
  );
}
